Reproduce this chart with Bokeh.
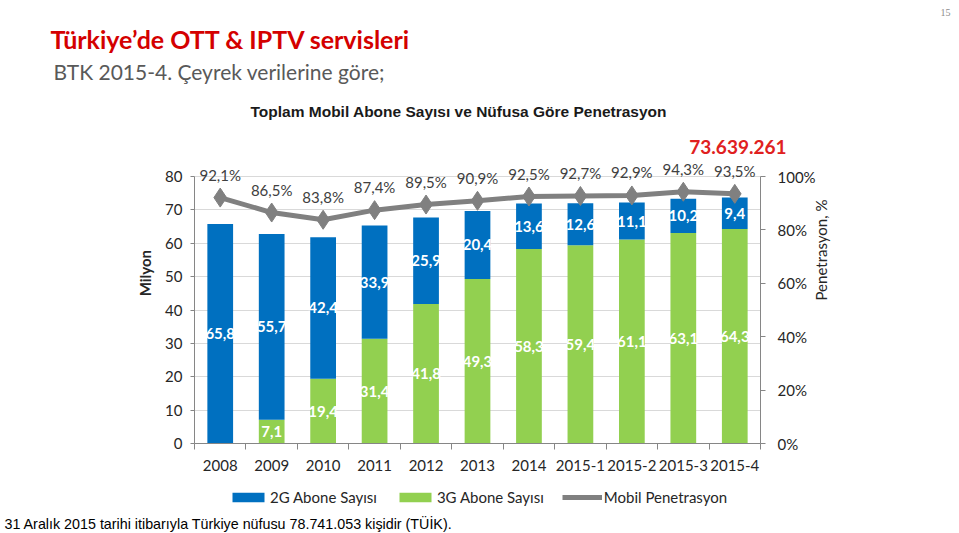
import math
from bokeh.plotting import figure
from bokeh.layouts import column
from bokeh.models import (ColumnDataSource, Range1d, LinearAxis, FixedTicker, Title,
                          Legend, LegendItem)
from bokeh.core.properties import value
from bokeh.embed import file_html
from bokeh.resources import INLINE

# ---------------- data ----------------
periods = ["2008", "2009", "2010", "2011", "2012", "2013", "2014",
           "2015-1", "2015-2", "2015-3", "2015-4"]
subs_2g = [65.8, 55.7, 42.4, 33.9, 25.9, 20.4, 13.6, 12.6, 11.1, 10.2, 9.4]
subs_3g = [0.0, 7.1, 19.4, 31.4, 41.8, 49.3, 58.3, 59.4, 61.1, 63.1, 64.3]
penetration = [92.1, 86.5, 83.8, 87.4, 89.5, 90.9, 92.5, 92.7, 92.9, 94.3, 93.5]
left_ticks = [0, 10, 20, 30, 40, 50, 60, 70, 80]
right_ticks = [0, 20, 40, 60, 80, 100]
right_tick_labels = ["0%", "20%", "40%", "60%", "80%", "100%"]
total_label = "73.639.261"

BLUE = "#0070C0"
GREEN = "#92D050"
GREY = "#808080"
TXT = "#404040"
DARK = "#262626"

W, H = 959, 533
FL, FR, FT, FB = 194, 760, 157, 443   # frame edges in page pixels
H_MAIN = 478
px_per_unit = (FB - 176) / 80.0
ymax = (FB - FT) / px_per_unit
pct_max = ymax * 100.0 / 80.0
PAD = "\u00a0" * 15   # shifts the rotated axis name up a little

def fmt(v):
    return f"{v:.1f}".replace(".", ",")

xs = list(range(len(periods)))
src = ColumnDataSource(dict(
    x=xs, g2=subs_2g, g3=subs_3g, pen=penetration,
    pen_lbl=[fmt(v) + "%" for v in penetration],
    g2_mid=[b + t / 2 for b, t in zip(subs_3g, subs_2g)],
    g2_lbl=[fmt(v) for v in subs_2g],
))
lbl3 = [(x, v) for x, v in zip(xs, subs_3g) if v > 0]
src3 = ColumnDataSource(dict(x=[a for a, _ in lbl3], mid=[v / 2 for _, v in lbl3],
                             lbl=[fmt(v) for _, v in lbl3]))

p = figure(width=W, height=H_MAIN, output_backend="svg", toolbar_location=None,
           x_range=Range1d(-0.5, len(periods) - 0.5), y_range=Range1d(0, ymax),
           min_border_left=FL, min_border_right=W - FR, min_border_top=FT,
           min_border_bottom=H_MAIN - FB)
p.outline_line_color = None
p.background_fill_color = "white"
p.border_fill_color = "white"
p.extra_y_ranges = {"pct": Range1d(0, pct_max)}

# bars
p.vbar_stack(["g3", "g2"], x="x", width=0.5, color=[GREEN, BLUE], source=src,
             line_color=None)
# penetration line
p.line("x", "pen", source=src, y_range_name="pct", line_color=GREY, line_width=5)
p.scatter("x", "pen", source=src, y_range_name="pct", marker="diamond", size=19,
          fill_color=GREY, line_color=GREY)

# labels
p.text("x", "g2_mid", text="g2_lbl", source=src, text_color="white",
       text_font=value("Lato"), text_font_style="bold", text_font_size="15px",
       text_align="center", text_baseline="middle")
p.text("x", "mid", text="lbl", source=src3, text_color="white",
       text_font=value("Lato"), text_font_style="bold", text_font_size="15px",
       text_align="center", text_baseline="middle")
p.text("x", "pen", text="pen_lbl", source=src, y_range_name="pct", text_color=TXT,
       text_font=value("Lato"), text_font_size="15px", text_align="center",
       text_baseline="middle", y_offset=-23)

# axes
p.xgrid.visible = False
p.ygrid.ticker = FixedTicker(ticks=left_ticks)
p.ygrid.grid_line_color = "#d9d9d9"
p.ygrid.bounds = (0, 80)

xa = p.xaxis[0]
xa.ticker = FixedTicker(ticks=xs, minor_ticks=[i - 0.5 for i in range(len(periods) + 1)])
xa.major_label_overrides = {i: s for i, s in enumerate(periods)}
xa.major_tick_out = 0
xa.major_tick_in = 0
xa.minor_tick_out = 6
xa.minor_tick_in = 0
xa.minor_tick_line_color = "#868686"
xa.axis_line_color = "#868686"
xa.major_label_text_font = "Lato"
xa.major_label_text_font_size = "15px"
xa.major_label_text_color = DARK
xa.major_label_standoff = 10

ya = p.yaxis[0]
ya.ticker = FixedTicker(ticks=left_ticks)
ya.bounds = (0, 80)
ya.minor_tick_line_color = None
ya.major_tick_out = 4
ya.major_tick_in = 0
ya.axis_line_color = "#868686"
ya.major_tick_line_color = "#868686"
ya.major_label_text_font = "Lato"
ya.major_label_text_font_size = "15px"
ya.major_label_text_color = DARK
ya.major_label_standoff = 8
ya.axis_label = PAD + "Milyon"
ya.axis_label_text_font = "Lato"
ya.axis_label_text_font_size = "15px"
ya.axis_label_text_font_style = "bold"
ya.axis_label_text_color = DARK
ya.axis_label_standoff = 8

ra = LinearAxis(y_range_name="pct", ticker=FixedTicker(ticks=right_ticks))
ra.major_label_overrides = {t: s for t, s in zip(right_ticks, right_tick_labels)}
ra.bounds = (0, 100)
ra.minor_tick_line_color = None
ra.major_tick_out = 5
ra.major_tick_in = 0
ra.axis_line_color = "#868686"
ra.major_tick_line_color = "#868686"
ra.major_label_text_font = "Lato"
ra.major_label_text_font_size = "15px"
ra.major_label_text_color = DARK
ra.major_label_standoff = 12
ra.axis_label = "Penetrasyon, %"
ra.axis_label_text_font = "Lato"
ra.axis_label_text_font_size = "15px"
ra.axis_label_text_font_style = "normal"
ra.axis_label_text_color = DARK
ra.axis_label_standoff = 2
ra.axis_label_orientation = math.pi / 2
p.add_layout(ra, "right")

# titles above (first added = closest to the frame)
p.add_layout(Title(text=total_label, align="right", offset=FR - 786, standoff=8,
                   text_font="Lato", text_font_size="19px", text_font_style="bold",
                   text_color="#E02020"), "above")
p.add_layout(Title(text="Toplam Mobil Abone Sayısı ve Nüfusa Göre Penetrasyon", align="left",
                   offset=250 - FL, standoff=28, text_font="Liberation Sans",
                   text_font_size="15.5px", text_font_style="bold", text_color="#1a1a1a"),
             "above")
p.add_layout(Title(text="BTK 2015-4. Çeyrek verilerine göre;", align="left", offset=53 - FL,
                   standoff=6, text_font="Lato", text_font_size="21px",
                   text_font_style="normal", text_color="#595959"), "above")
p.add_layout(Title(text="Türkiye’de OTT & IPTV servisleri", align="left", offset=50 - FL,
                   standoff=0, text_font="Lato", text_font_size="25px",
                   text_font_style="bold", text_color="#D40000"), "above")
p.add_layout(Title(text="15", align="right", offset=FR - 950, standoff=8,
                   vertical_align="top", text_font="Liberation Serif",
                   text_font_size="10px", text_font_style="normal",
                   text_color="#8c8c8c"), "above")

# ---------------- legend strip + footnote ----------------
H_LEG = H - H_MAIN
q = figure(width=W, height=H_LEG, output_backend="svg", toolbar_location=None,
           x_axis_location=None, y_axis_location=None,
           min_border_left=0, min_border_right=0, min_border_top=0, min_border_bottom=0)
q.outline_line_color = None
q.grid.visible = False
q.background_fill_color = "white"
q.border_fill_color = "white"
# hidden copies of the series: they only supply the legend swatches
k2 = q.vbar(x="x", top="g2", width=0.5, source=src, fill_color=BLUE, line_color=None,
            visible=False)
k3 = q.vbar(x="x", top="g3", width=0.5, source=src, fill_color=GREEN, line_color=None,
            visible=False)
kl = q.line(x="x", y="pen", source=src, line_color=GREY, line_width=5, visible=False)
kp = q.scatter(x="x", y="pen", source=src, marker="diamond", size=14, fill_color=GREY,
               line_color=GREY, visible=False)
legend = Legend(items=[
    LegendItem(label="2G Abone Sayısı", renderers=[k2]),
    LegendItem(label="3G Abone Sayısı", renderers=[k3]),
    LegendItem(label="Mobil Penetrasyon", renderers=[kl, kp]),
], orientation="horizontal", location=(34, 9), glyph_width=40, glyph_height=12,
   label_standoff=2, spacing=18, padding=5, margin=0, border_line_color=None,
   background_fill_alpha=0, label_text_font="Lato", label_text_font_size="15px",
   label_text_color=DARK, click_policy="none")
q.add_layout(legend, "center")
q.add_layout(Title(text="31 Aralık 2015 tarihi itibarıyla Türkiye nüfusu 78.741.053 kişidir (TÜİK).",
                   align="left", offset=4 - FL, standoff=0, vertical_align="top",
                   text_font="Liberation Sans", text_font_size="14.3px",
                   text_font_style="normal", text_color="#000000"), "below")

layout = column(p, q, spacing=0)
open("out.html", "w").write(file_html(layout, INLINE))
